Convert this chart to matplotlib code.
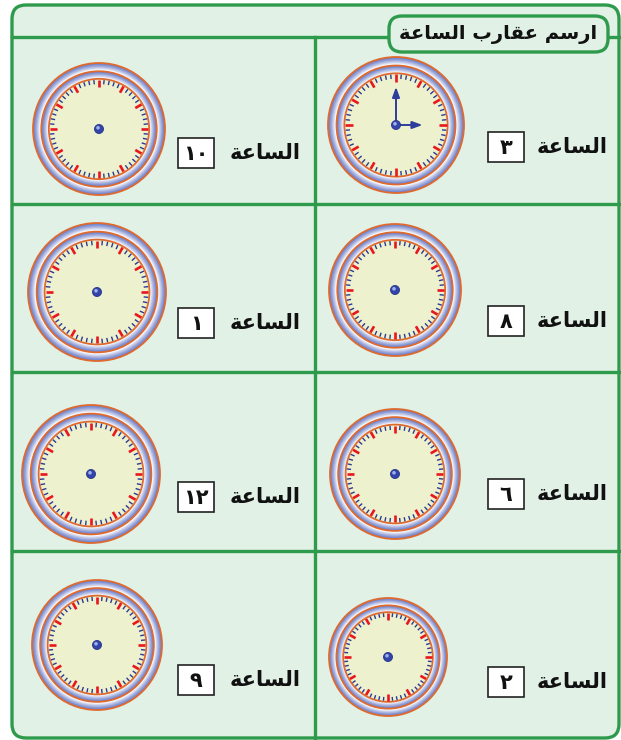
import numpy as np
import matplotlib
matplotlib.use("Agg")
import matplotlib.pyplot as plt
from matplotlib.patches import Circle, FancyBboxPatch, Rectangle
from matplotlib.collections import LineCollection
from matplotlib.colors import to_rgb

# ---- data ----
title_text = "\uFE94\uFECB\uFE8E\uFEB4\uFEDF\uFE8D \uFE8F\uFEAD\uFE8E\uFED8\uFECB \uFEE2\uFEB3\uFEAD\uFE8D"  # ارسم عقارب الساعة (shaped, visual order)
label_word = "\uFE94\uFECB\uFE8E\uFEB4\uFEDF\uFE8D"  # الساعة
hour_labels = ["\u0663", "\u0661\u0660", "\u0668", "\u0661", "\u0666", "\u0661\u0662", "\u0662", "\u0669"]
hours = [3, 10, 8, 1, 6, 12, 2, 9]
drawn_hands = [True, False, False, False, False, False, False, False]

# ---- layout (pixels) ----
W, H = 621, 740
cols = ["right", "left", "right", "left", "right", "left", "right", "left"]
clock_centers = [(396, 125), (99, 129), (395, 290), (97, 292), (395, 474), (91, 474), (388, 657), (97, 645)]
clock_radii = [68, 66, 66, 69, 65, 69, 59, 65]
label_y = [147, 153, 321, 323, 494, 497, 682, 680]

GREEN = "#2e9a4c"
BG = "#e1f1e6"
FACE = "#eef1cd"
ORANGE = "#df6a2e"
RING_BLUE = "#6a7cc8"
RED = "#e8161e"
TICK_BLUE = "#2b3a96"
HAND = "#2d3d9c"

fig = plt.figure(figsize=(W / 100, H / 100), dpi=100)
ax = fig.add_axes([0, 0, 1, 1])
ax.set_xlim(0, W)
ax.set_ylim(H, 0)
ax.set_aspect("equal")
ax.axis("off")

# outer frame
frame = FancyBboxPatch((12, 5), 607, 733, boxstyle="round,pad=0,rounding_size=14",
                       fc=BG, ec=GREEN, lw=2.4, zorder=1)
ax.add_patch(frame)
ax.plot([12, 619], [37, 37], color=GREEN, lw=2.4, zorder=2)
ax.plot([315, 315], [37, 738], color=GREEN, lw=2.4, zorder=2)
for yy in [204, 372, 551]:
    ax.plot([12, 619], [yy, yy], color=GREEN, lw=2.4, zorder=2)

# header pill
pill = FancyBboxPatch((389, 16), 219, 36, boxstyle="round,pad=0,rounding_size=13",
                      fc=BG, ec=GREEN, lw=2.4, zorder=3)
ax.add_patch(pill)
ax.text(498, 35, title_text, ha="center", va="center", fontsize=14,
        fontweight="bold", family="DejaVu Sans", color="#111111", zorder=4)


def lerp(c1, c2, t):
    a, b = np.array(to_rgb(c1)), np.array(to_rgb(c2))
    return tuple(a + (b - a) * t)


def gradient_ring(cx, cy, r_out, r_in, z):
    n = 24
    for k in range(n):
        t = k / (n - 1)
        r = r_out - (r_out - r_in) * k / n
        ax.add_patch(Circle((cx, cy), r, fc=lerp(RING_BLUE, "#ffffff", min(1.0, t ** 1.3 * 1.05)),
                            ec="none", zorder=z))
    ax.add_patch(Circle((cx, cy), r_out, fc="none", ec=ORANGE, lw=1.3, zorder=z + 0.5))


def draw_clock(cx, cy, R, hour, with_hands):
    gradient_ring(cx, cy, R, R * 0.885, 5)
    gradient_ring(cx, cy, R * 0.875, R * 0.765, 6)
    ax.add_patch(Circle((cx, cy), R * 0.76, fc=FACE, ec=ORANGE, lw=1.3, zorder=7))
    rf = R * 0.745
    minor, major = [], []
    for i in range(60):
        a = np.deg2rad(90 - i * 6)
        if i % 5 == 0:
            r1 = rf - R * 0.11
            major.append([(cx + r1 * np.cos(a), cy - r1 * np.sin(a)), (cx + rf * np.cos(a), cy - rf * np.sin(a))])
        else:
            r1 = rf - R * 0.065
            minor.append([(cx + r1 * np.cos(a), cy - r1 * np.sin(a)), (cx + rf * np.cos(a), cy - rf * np.sin(a))])
    ax.add_collection(LineCollection(minor, colors=TICK_BLUE, linewidths=1.0, zorder=8))
    ax.add_collection(LineCollection(major, colors=RED, linewidths=1.9, zorder=8))
    if with_hands:
        # minute hand to 12, hour hand to the hour
        for ang, length in [(90, R * 0.56), (90 - hour * 30, R * 0.39)]:
            a = np.deg2rad(ang)
            ax.annotate("", xy=(cx + length * np.cos(a), cy - length * np.sin(a)), xytext=(cx, cy),
                        arrowprops=dict(arrowstyle="-|>,head_length=0.6,head_width=0.22",
                                        color=HAND, lw=1.4, shrinkA=0, shrinkB=0), zorder=9)
    ax.add_patch(Circle((cx, cy), 4.5, fc="#3345a8", ec="#26338a", lw=0.6, zorder=10))
    ax.add_patch(Circle((cx - 1.0, cy - 1.2), 1.8, fc="#9fb0ec", ec="none", zorder=11))


for i in range(len(hours)):
    cx, cy = clock_centers[i]
    draw_clock(cx, cy, clock_radii[i], hours[i], drawn_hands[i])
    ly = label_y[i]
    if cols[i] == "right":
        bx, tx = 488, 572
    else:
        bx, tx = 178, 265
    ax.add_patch(Rectangle((bx, ly - 15), 36, 30, fc="white", ec="#222222", lw=1.2, zorder=5))
    ax.text(bx + 18, ly + 1, hour_labels[i], ha="center", va="center", fontsize=15,
            fontweight="bold", family="DejaVu Sans", color="#111111", zorder=6)
    ax.text(tx, ly, label_word, ha="center", va="center", fontsize=15,
            fontweight="bold", family="DejaVu Sans", color="#111111", zorder=6)

fig.savefig("out.png", dpi=100, facecolor="white")
